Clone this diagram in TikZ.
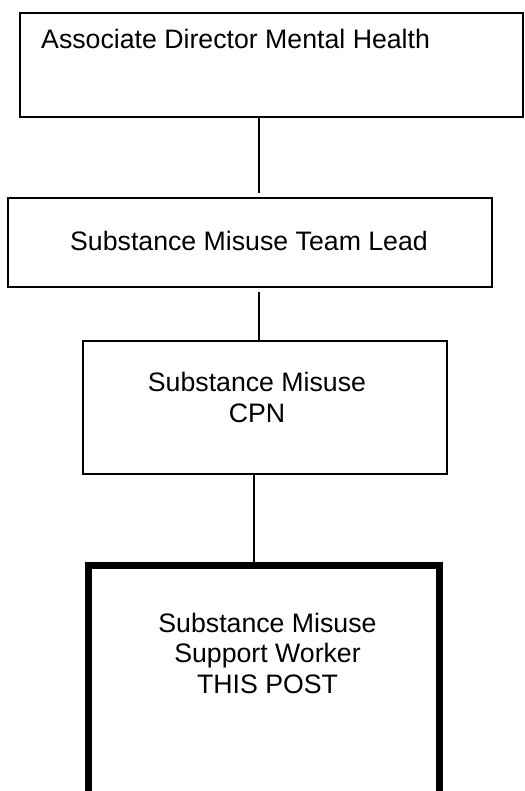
\documentclass[tikz,border=0pt]{standalone}
\usepackage{fontspec}
\setmainfont{Liberation Sans}
\begin{document}
\begin{tikzpicture}[x=1pt,y=-1pt,
  box/.style={draw=black,line width=1.1pt,rectangle,inner sep=0pt,fill=white},
  postbox/.style={draw=black,line width=7pt,rectangle,inner sep=0pt,fill=white},
  link/.style={draw=black,line width=1.1pt},
  lbl/.style={inner sep=0pt,font=\fontsize{26.7}{30.5}\selectfont,align=center}]
\useasboundingbox (0,0) rectangle (524,791);
\clip (0,0) rectangle (524,791);
\node[box,minimum width=503pt,minimum height=104pt] (b1) at (271.5,65) {};
\node[box,minimum width=484pt,minimum height=89pt] (b2) at (250,242.5) {};
\node[box,minimum width=364pt,minimum height=133pt] (b3) at (265,407.5) {};
\node[postbox,minimum width=350.5pt,minimum height=254.5pt] (b4) at (263.75,692.75) {};
\node[lbl,anchor=base west] (t1) at (41,49) {Associate Director Mental Health};
\node[lbl,anchor=base] (t2) at (249,251) {Substance Misuse Team Lead};
\node[lbl,anchor=base] (t3) at (257,422) {Substance Misuse\\CPN};
\node[lbl,anchor=base] (t4) at (267.5,693) {Substance Misuse\\Support Worker\\THIS POST};
\coordinate (c1) at (259,193);
\coordinate (c2) at (259,292);
\draw[link] (b1.south -| c1) -- (c1);
\draw[link] (c2) -- (c2 |- b3.north);
\draw[link] (b3.south -| 254,0) -- (b4.north -| 254,0);
\end{tikzpicture}
\end{document}
